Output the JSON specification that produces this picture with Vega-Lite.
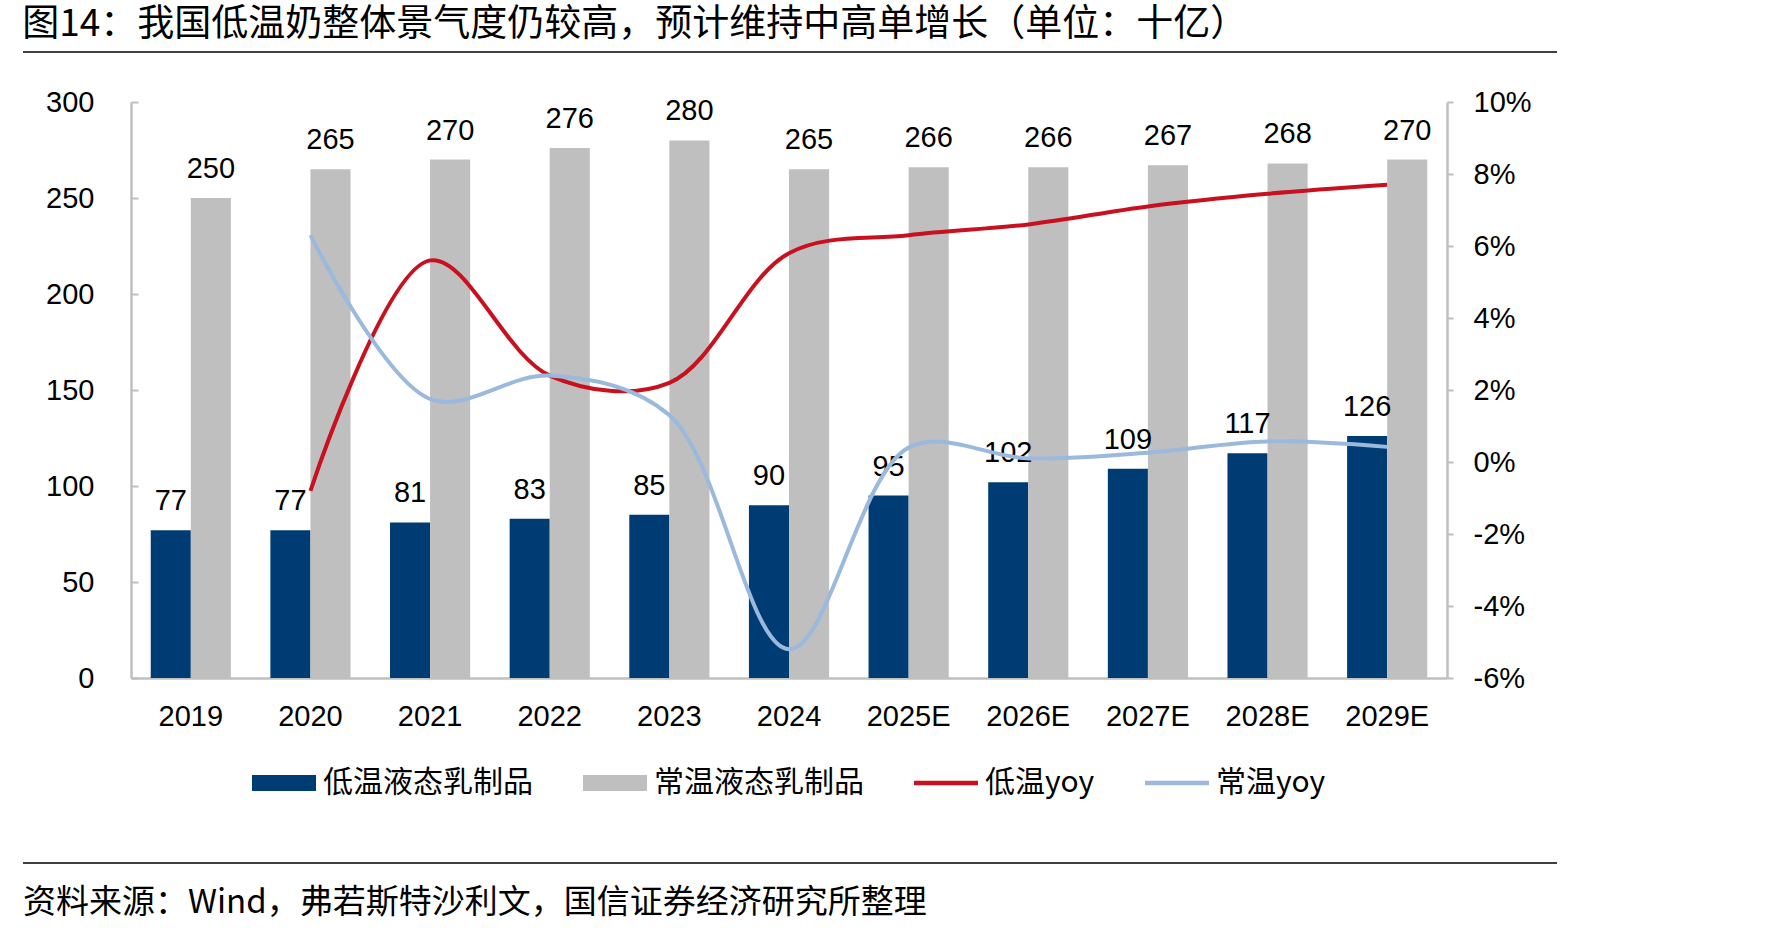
{
  "$schema": "https://vega.github.io/schema/vega-lite/v6.json",
  "background": "white",
  "padding": {"left": 22, "top": 6, "right": 20, "bottom": 10},
  "title": {
    "text": "图14：我国低温奶整体景气度仍较高，预计维持中高单增长（单位：十亿）",
    "anchor": "start",
    "font": "Noto Sans CJK SC",
    "fontSize": 37,
    "fontWeight": "normal",
    "color": "#000000",
    "offset": 7
  },
  "datasets": {
    "bars": [
      {"year": "2019", "series": "低温液态乳制品", "value": 77},
      {"year": "2020", "series": "低温液态乳制品", "value": 77},
      {"year": "2021", "series": "低温液态乳制品", "value": 81},
      {"year": "2022", "series": "低温液态乳制品", "value": 83},
      {"year": "2023", "series": "低温液态乳制品", "value": 85},
      {"year": "2024", "series": "低温液态乳制品", "value": 90},
      {"year": "2025E", "series": "低温液态乳制品", "value": 95},
      {"year": "2026E", "series": "低温液态乳制品", "value": 102},
      {"year": "2027E", "series": "低温液态乳制品", "value": 109},
      {"year": "2028E", "series": "低温液态乳制品", "value": 117},
      {"year": "2029E", "series": "低温液态乳制品", "value": 126},
      {"year": "2019", "series": "常温液态乳制品", "value": 250},
      {"year": "2020", "series": "常温液态乳制品", "value": 265},
      {"year": "2021", "series": "常温液态乳制品", "value": 270},
      {"year": "2022", "series": "常温液态乳制品", "value": 276},
      {"year": "2023", "series": "常温液态乳制品", "value": 280},
      {"year": "2024", "series": "常温液态乳制品", "value": 265},
      {"year": "2025E", "series": "常温液态乳制品", "value": 266},
      {"year": "2026E", "series": "常温液态乳制品", "value": 266},
      {"year": "2027E", "series": "常温液态乳制品", "value": 267},
      {"year": "2028E", "series": "常温液态乳制品", "value": 268},
      {"year": "2029E", "series": "常温液态乳制品", "value": 270}
    ],
    "lines": [
      {"year": "2020", "series": "低温yoy", "yoy": -0.008},
      {"year": "2021", "series": "低温yoy", "yoy": 0.056},
      {"year": "2022", "series": "低温yoy", "yoy": 0.024},
      {"year": "2023", "series": "低温yoy", "yoy": 0.022},
      {"year": "2024", "series": "低温yoy", "yoy": 0.058},
      {"year": "2025E", "series": "低温yoy", "yoy": 0.063},
      {"year": "2026E", "series": "低温yoy", "yoy": 0.066},
      {"year": "2027E", "series": "低温yoy", "yoy": 0.071},
      {"year": "2028E", "series": "低温yoy", "yoy": 0.0745},
      {"year": "2029E", "series": "低温yoy", "yoy": 0.077},
      {"year": "2020", "series": "常温yoy", "yoy": 0.063},
      {"year": "2021", "series": "常温yoy", "yoy": 0.0175},
      {"year": "2022", "series": "常温yoy", "yoy": 0.024},
      {"year": "2023", "series": "常温yoy", "yoy": 0.013},
      {"year": "2024", "series": "常温yoy", "yoy": -0.052},
      {"year": "2025E", "series": "常温yoy", "yoy": 0.004},
      {"year": "2026E", "series": "常温yoy", "yoy": 0.001},
      {"year": "2027E", "series": "常温yoy", "yoy": 0.0026},
      {"year": "2028E", "series": "常温yoy", "yoy": 0.0057},
      {"year": "2029E", "series": "常温yoy", "yoy": 0.0042}
    ]
  },
  "columns": 1,
  "spacing": 64,
  "resolve": {"scale": {"color": "independent"}, "legend": {"color": "independent"}},
  "concat": [
    {
      "columns": 1,
      "spacing": 35,
      "resolve": {"scale": {"color": "independent"}, "legend": {"color": "independent"}},
      "concat": [
        {
          "width": 1534,
          "height": 1,
          "data": {"values": [{}]},
          "mark": {"type": "rule", "color": "#000000", "strokeWidth": 1.5},
          "encoding": {
            "x": {"datum": 0, "type": "quantitative", "scale": {"domain": [0, 1]}, "axis": null},
            "x2": {"datum": 1},
            "y": {"datum": 1, "type": "quantitative", "scale": {"domain": [0, 1]}, "axis": null}
          }
        },
        {
          "spacing": 0,
          "resolve": {"scale": {"color": "independent"}, "legend": {"color": "independent"}},
          "hconcat": [
            {
              "width": 1,
              "height": 1,
              "data": {"values": []},
              "mark": "point"
            },
            {
              "width": 1316,
              "height": 576,
              "layer": [
                {
                  "layer": [
                    {
                      "data": {"name": "bars"},
                      "mark": {"type": "bar"},
                      "encoding": {
                        "x": {
                          "field": "year",
                          "type": "nominal",
                          "scale": {
                            "domain": ["2019", "2020", "2021", "2022", "2023", "2024", "2025E", "2026E", "2027E", "2028E", "2029E"],
                            "paddingInner": 0.33,
                            "paddingOuter": 0.165
                          },
                          "axis": {
                            "title": null,
                            "ticks": false,
                            "labelAngle": 0,
                            "labelPadding": 24,
                            "labelFont": "Liberation Sans",
                            "labelFontSize": 29,
                            "labelColor": "#000000",
                            "domainColor": "#BFBFBF",
                            "domainWidth": 2.5
                          }
                        },
                        "xOffset": {
                          "field": "series",
                          "type": "nominal",
                          "scale": {"domain": ["低温液态乳制品", "常温液态乳制品"]}
                        },
                        "y": {
                          "field": "value",
                          "type": "quantitative",
                          "scale": {"domain": [0, 300]},
                          "axis": {
                            "title": null,
                            "grid": false,
                            "orient": "left",
                            "values": [0, 50, 100, 150, 200, 250, 300],
                            "tickSize": -7,
                            "tickColor": "#BFBFBF",
                            "tickWidth": 2,
                            "domainColor": "#BFBFBF",
                            "domainWidth": 2.5,
                            "labelFont": "Liberation Sans",
                            "labelFontSize": 29,
                            "labelColor": "#000000",
                            "labelPadding": 44,
                            "minExtent": 107
                          }
                        },
                        "color": {
                          "field": "series",
                          "type": "nominal",
                          "scale": {
                            "domain": ["低温液态乳制品", "常温液态乳制品", "低温yoy", "常温yoy"],
                            "range": ["#003C74", "#BFBFBF", "#C8101F", "#9BB8DD"]
                          },
                          "legend": {
                            "title": null,
                            "orient": "bottom",
                            "direction": "horizontal",
                            "columns": 4,
                            "offset": 20,
                            "symbolSize": 4096,
                            "symbolStrokeWidth": 0,
                            "labelFont": "Noto Sans CJK SC",
                            "labelFontSize": 30,
                            "labelColor": "#000000",
                            "labelOffset": 7,
                            "labelLimit": 400,
                            "columnPadding": 50,
                            "encode": {
                              "symbols": {
                                "update": {
                                  "shape": {"signal": "indexof(['低温液态乳制品','常温液态乳制品'], datum.value) >= 0 ? 'M-1,-0.25H1V0.25H-1Z' : 'M-1,-0.07H1V0.07H-1Z'"},
                                  "fill": {"scale": "color", "field": "value"},
                                  "strokeWidth": {"value": 0},
                                  "opacity": {"value": 1}
                                }
                              }
                            }
                          }
                        }
                      }
                    },
                    {
                      "data": {"name": "bars"},
                      "mark": {"type": "text", "baseline": "alphabetic", "dy": -20, "font": "Liberation Sans", "fontSize": 29, "color": "#000000"},
                      "encoding": {
                        "x": {"field": "year", "type": "nominal"},
                        "xOffset": {"field": "series", "type": "nominal"},
                        "y": {"field": "value", "type": "quantitative"},
                        "text": {"field": "value", "type": "quantitative"}
                      }
                    }
                  ]
                },
                {
                  "data": {"name": "lines"},
                  "mark": {"type": "line", "interpolate": "catmull-rom", "strokeWidth": 4},
                  "encoding": {
                    "x": {"field": "year", "type": "nominal"},
                    "y": {
                      "field": "yoy",
                      "type": "quantitative",
                      "scale": {"domain": [-0.06, 0.1]},
                      "axis": {
                        "title": null,
                        "grid": false,
                        "orient": "right",
                        "values": [-0.06, -0.04, -0.02, 0, 0.02, 0.04, 0.06, 0.08, 0.1],
                        "labelExpr": "replace(format(datum.value, '.0%'), '\u2212', '-')",
                        "tickSize": 6,
                        "tickColor": "#BFBFBF",
                        "tickWidth": 2,
                        "domainColor": "#BFBFBF",
                        "domainWidth": 2.5,
                        "labelFont": "Liberation Sans",
                        "labelFontSize": 29,
                        "labelColor": "#000000",
                        "labelPadding": 20
                      }
                    },
                    "color": {"field": "series", "type": "nominal"}
                  }
                }
              ],
              "resolve": {"scale": {"y": "independent"}}
            }
          ]
        }
      ]
    },
    {
      "width": 1534,
      "height": 60,
      "data": {"values": [{"t": "资料来源：Wind，弗若斯特沙利文，国信证券经济研究所整理"}]},
      "layer": [
        {
          "mark": {"type": "rule", "color": "#000000", "strokeWidth": 1.5},
          "encoding": {
            "x": {"datum": 0, "type": "quantitative", "scale": {"domain": [0, 1]}, "axis": null},
            "x2": {"datum": 1},
            "y": {"datum": 1, "type": "quantitative", "scale": {"domain": [0, 1]}, "axis": null}
          }
        },
        {
          "mark": {"type": "text", "align": "left", "baseline": "middle", "font": "Noto Sans CJK SC", "fontSize": 33, "color": "#000000"},
          "encoding": {
            "x": {"datum": 0, "type": "quantitative"},
            "y": {"datum": 0.34, "type": "quantitative"},
            "text": {"field": "t", "type": "nominal"}
          }
        }
      ]
    }
  ],
  "config": {
    "view": {"stroke": null},
    "font": "Liberation Sans",
    "legend": {"layout": {"bottom": {"anchor": "middle"}}}
  }
}
